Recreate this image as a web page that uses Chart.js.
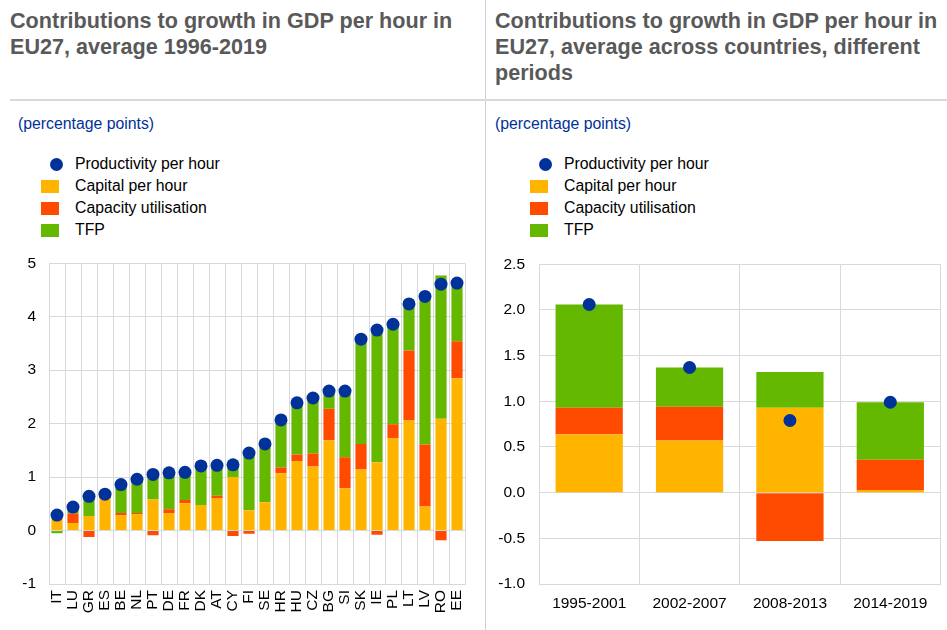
<!DOCTYPE html>
<html><head><meta charset="utf-8">
<script src="https://cdn.jsdelivr.net/npm/chart.js@4"></script>
<style>
body{margin:0;width:947px;height:630px;position:relative;background:#fff;font-family:Arial,"Liberation Sans",sans-serif;overflow:hidden}
.title{position:absolute;top:8px;font-weight:bold;font-size:21.6px;line-height:26px;color:#595959}
.sub{position:absolute;top:115px;font-size:15.8px;color:#003299}
.vsep{position:absolute;left:485px;top:0;width:1px;height:630px;background:#d0d0d0}
.hsep{position:absolute;left:10px;top:99px;width:937px;height:2px;background:#d9d9d9}
.legend{position:absolute;top:153px;font-size:15.8px;color:#000}
.li{height:22px;line-height:22px;position:relative;padding-left:27px;white-space:nowrap}
.dot{position:absolute;left:2px;top:5px;width:13px;height:13px;border-radius:50%}
.box{position:absolute;left:-7px;top:5px;width:18px;height:13px}
canvas{position:absolute}
</style></head><body>
<div class="title" style="left:10px;width:470px">Contributions to growth in GDP per hour in EU27, average 1996-2019</div>
<div class="title" style="left:495px;width:450px">Contributions to growth in GDP per hour in EU27, average across countries, different periods</div>
<div class="vsep"></div><div class="hsep"></div>
<div class="sub" style="left:18px">(percentage points)</div>
<div class="sub" style="left:495px">(percentage points)</div>
<div class="legend" id="legL" style="left:48px"></div>
<div class="legend" id="legR" style="left:537px"></div>
<div style="position:absolute;left:0;top:241px;width:485px;height:389px"><canvas id="c1"></canvas></div>
<div style="position:absolute;left:487px;top:241px;width:460px;height:389px"><canvas id="c2"></canvas></div>
<script>
const seriesNames = ['Productivity per hour','Capital per hour','Capacity utilisation','TFP'];
const seriesColors = ['#003299','#FFB400','#FF4B00','#65B800'];

const countries = ['IT','LU','GR','ES','BE','NL','PT','DE','FR','DK','AT','CY','FI','SE','HR','HU','CZ','BG','SI','SK','IE','PL','LT','LV','RO','EE'];
const productivity = [0.29,0.44,0.64,0.68,0.86,0.96,1.05,1.08,1.09,1.21,1.22,1.23,1.45,1.62,2.07,2.39,2.48,2.61,2.61,3.58,3.75,3.86,4.24,4.38,4.61,4.63];
const capital = [0.24,0.14,0.27,0.61,0.28,0.31,0.58,0.33,0.51,0.48,0.61,1.0,0.38,0.53,1.07,1.3,1.2,1.69,0.79,1.14,1.28,1.73,2.06,0.45,2.09,2.85];
const capacity = [0.0,0.18,-0.12,0.0,0.05,0.02,-0.09,0.07,0.06,0.0,0.04,-0.1,-0.06,0.0,0.11,0.125,0.24,0.59,0.58,0.48,-0.08,0.26,1.31,1.16,-0.18,0.69];
const tfp = [-0.05,0.1,0.34,0.07,0.5,0.6,0.44,0.66,0.48,0.7,0.53,0.24,1.04,1.05,0.87,0.94,1.02,0.31,1.21,1.93,2.44,1.84,0.83,2.76,2.68,1.08];

const periods = ['1995-2001','2002-2007','2008-2013','2014-2019'];
const pProductivity = [2.06,1.37,0.79,0.99];
const pCapital = [0.64,0.57,0.93,0.03];
const pCapacity = [0.29,0.37,-0.53,0.33];
const pTfp = [1.13,0.43,0.39,0.63];

const leftTicks = {min:-1,max:5,step:1};
const rightTicks = {min:-1,max:2.5,step:0.5};

function legend(id){
  const el=document.getElementById(id);
  seriesNames.forEach((n,i)=>{
    const d=document.createElement('div');d.className='li';
    const m=document.createElement('span');m.className=i===0?'dot':'box';m.style.background=seriesColors[i];
    d.appendChild(m);d.appendChild(document.createTextNode(n));el.appendChild(d);
  });
}
legend('legL');legend('legR');

const FONT={family:'Arial, "Liberation Sans", sans-serif',size:15.5};
function make(id,labels,prod,cap,util,tf,tk,opt){
  return new Chart(document.getElementById(id),{
    type:'bar',
    data:{labels,datasets:[
      {type:'line',label:seriesNames[0],data:prod,showLine:false,pointRadius:opt.r,pointHoverRadius:opt.r,pointBackgroundColor:seriesColors[0],pointBorderWidth:0,backgroundColor:seriesColors[0],stack:'dot',order:0},
      {label:seriesNames[1],data:cap,backgroundColor:seriesColors[1],stack:'s',order:1,categoryPercentage:opt.cp,barPercentage:1},
      {label:seriesNames[2],data:util,backgroundColor:seriesColors[2],stack:'s',order:1,categoryPercentage:opt.cp,barPercentage:1},
      {label:seriesNames[3],data:tf,backgroundColor:seriesColors[3],stack:'s',order:1,categoryPercentage:opt.cp,barPercentage:1}
    ]},
    options:{
      responsive:true,maintainAspectRatio:false,animation:false,
      layout:{padding:{top:opt.pt,right:opt.pr,left:0,bottom:0}},
      plugins:{legend:{display:false},tooltip:{enabled:false}},
      scales:{
        x:{stacked:true,grid:{color:'#d9d9d9',offset:true,drawTicks:false},border:{color:'#d9d9d9'},
           ticks:{color:'#000',font:FONT,minRotation:opt.rot,maxRotation:opt.rot,autoSkip:false,padding:opt.xpad},
           afterFit:s=>{s.height=46;}},
        y:{stacked:true,min:tk.min,max:tk.max,grid:{color:'#d9d9d9',drawTicks:false},border:{color:'#d9d9d9'},
           ticks:{stepSize:tk.step,color:'#000',font:FONT,padding:opt.ypad,callback:v=>opt.dec?v.toFixed(1):v},
           afterFit:s=>{s.width=opt.yw;}}
      }
    }
  });
}
make('c1',countries,productivity,capital,capacity,tfp,leftTicks,{r:6.5,cp:0.7,pt:5,pr:20,rot:90,xpad:6,ypad:13,yw:49,dec:false});
make('c2',periods,pProductivity,pCapital,pCapacity,pTfp,rightTicks,{r:6.5,cp:0.67,pt:5,pr:0,rot:0,xpad:10,ypad:14,yw:52,dec:true});
</script>
</body></html>
